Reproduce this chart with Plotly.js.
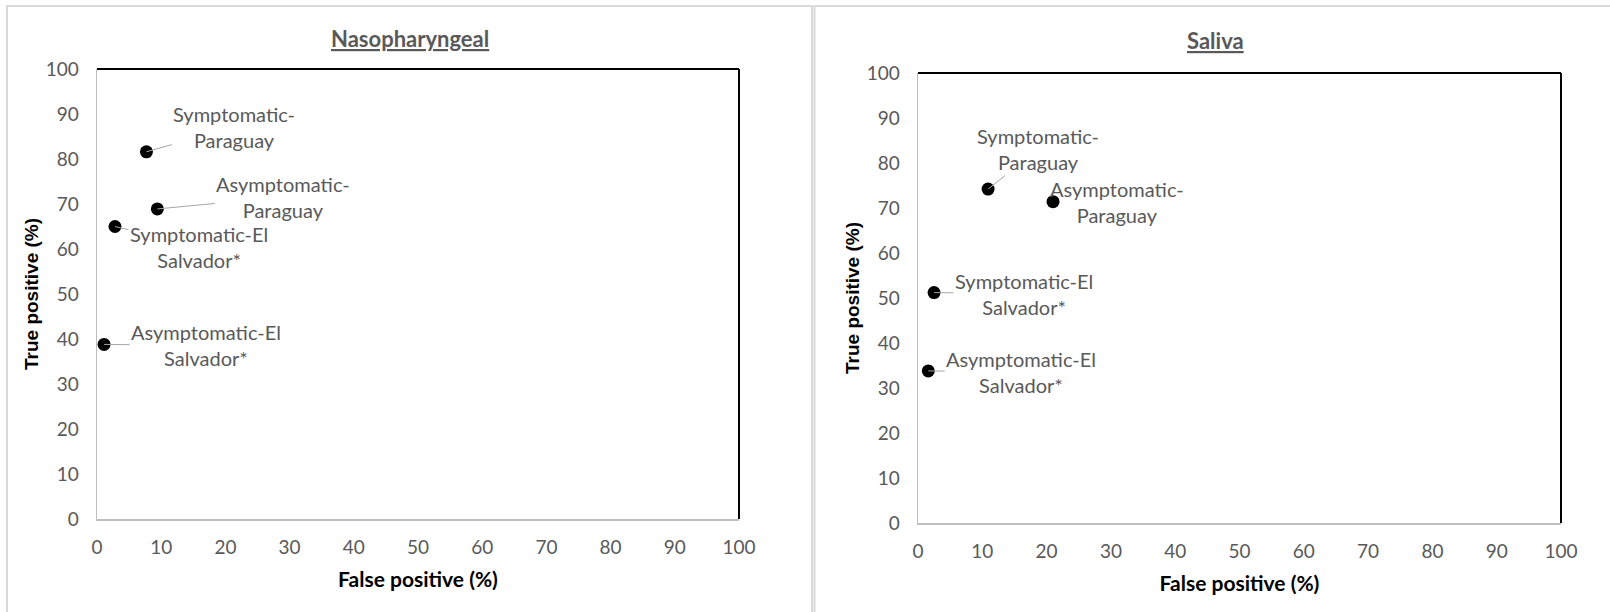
<!DOCTYPE html>
<html>
<head>
<meta charset="utf-8">
<script src="https://cdn.plot.ly/plotly-3.0.1.min.js"></script>
<style>
  html, body { margin: 0; padding: 0; background: #ffffff; }
  #chart { width: 1610px; height: 612px; }
</style>
</head>
<body>
<div id="chart"></div>
<script>
// ---- Data ----
const groups = ["Symptomatic-<br>Paraguay", "Asymptomatic-<br>Paraguay", "Symptomatic-El<br>Salvador*", "Asymptomatic-El<br>Salvador*"];

const nasoFalsePositive = [7.7, 9.4, 2.8, 1.1];
const nasoTruePositive  = [81.6, 68.9, 65.0, 38.8];

const salivaFalsePositive = [10.9, 21.0, 2.5, 1.6];
const salivaTruePositive  = [74.2, 71.4, 51.2, 33.8];

const panelTitles = ["Nasopharyngeal", "Saliva"];
const tickValues = [0, 10, 20, 30, 40, 50, 60, 70, 80, 90, 100];

// ---- Styles ----
const FONT = "Lato, 'Open Sans', sans-serif";
const GRAY_TEXT = "#595959";
const AXIS_GRAY = "#bfbfbf";
const LEADER_GRAY = "#a6a6a6";

// label offsets (pixels) relative to each point
const nasoLabelOffsets   = [[88, -25], [126, -12], [84, 20], [102, 1]];
const salivaLabelOffsets = [[50, -40], [64, 0], [90, 1], [93, 1]];

const traces = [
  { type: "scatter", mode: "markers", x: nasoFalsePositive, y: nasoTruePositive, xaxis: "x", yaxis: "y",
    marker: { color: "#000000", size: 13 }, cliponaxis: false, showlegend: false, hoverinfo: "skip" },
  { type: "scatter", mode: "markers", x: salivaFalsePositive, y: salivaTruePositive, xaxis: "x2", yaxis: "y2",
    marker: { color: "#000000", size: 13 }, cliponaxis: false, showlegend: false, hoverinfo: "skip" }
];

function makeAnnotations(xs, ys, offsets, xref, yref) {
  return groups.map((g, i) => ({
    x: xs[i], y: ys[i], xref: xref, yref: yref,
    text: g, showarrow: true, arrowhead: 0, arrowwidth: 1,
    arrowcolor: LEADER_GRAY, standoff: 0, startstandoff: 0,
    ax: offsets[i][0], ay: offsets[i][1], align: "center",
    font: { family: FONT, size: 20, color: GRAY_TEXT }
  }));
}

const annotations = [
  ...makeAnnotations(nasoFalsePositive, nasoTruePositive, nasoLabelOffsets, "x", "y"),
  ...makeAnnotations(salivaFalsePositive, salivaTruePositive, salivaLabelOffsets, "x2", "y2"),
  { text: "<u>" + panelTitles[0] + "</u>", xref: "paper", yref: "paper", x: 410 / 1610, y: 1 - 38 / 612,
    xanchor: "center", yanchor: "middle", showarrow: false, font: { family: FONT, size: 22, color: GRAY_TEXT, weight: "bold" } },
  { text: "<u>" + panelTitles[1] + "</u>", xref: "paper", yref: "paper", x: 1215 / 1610, y: 1 - 41 / 612,
    xanchor: "center", yanchor: "middle", showarrow: false, font: { family: FONT, size: 22, color: GRAY_TEXT, weight: "bold" } }
];

function xAxis(domain, anchor) {
  return { domain: domain, anchor: anchor, range: [0, 100], tickvals: tickValues,
    showline: true, linecolor: AXIS_GRAY, linewidth: 1.5, showgrid: false, zeroline: false, ticks: "", ticklabelstandoff: 11,
    tickfont: { family: FONT, size: 19, color: GRAY_TEXT },
    title: { text: "<b>False positive (%)</b>", standoff: 15, font: { family: FONT, size: 21, color: "#000000" } },
    fixedrange: true };
}
function yAxis(domain, anchor) {
  return { domain: domain, anchor: anchor, range: [0, 100], tickvals: tickValues,
    showline: true, linecolor: AXIS_GRAY, linewidth: 1.5, showgrid: false, zeroline: false, ticks: "", ticklabelstandoff: 13,
    tickfont: { family: FONT, size: 19, color: GRAY_TEXT },
    title: { text: "<b>True positive (%)</b>", standoff: 2, font: { family: "'Liberation Sans', Arial, sans-serif", size: 19, color: "#000000" } },
    fixedrange: true };
}

const shapes = [
  // panel borders
  { type: "rect", xref: "paper", yref: "paper", x0: 7 / 1610, x1: 812 / 1610, y0: -0.05, y1: 1 - 6 / 612, line: { color: "#d9d9d9", width: 2 }, layer: "below" },
  { type: "rect", xref: "paper", yref: "paper", x0: 814.5 / 1610, x1: 1.05, y0: -0.05, y1: 1 - 6 / 612, line: { color: "#d9d9d9", width: 2 }, layer: "below" },
  // top & right black frame lines
  { type: "line", xref: "x domain", yref: "y domain", x0: 0, x1: 1, y0: 1, y1: 1, line: { color: "#000", width: 2 } },
  { type: "line", xref: "x domain", yref: "y domain", x0: 1, x1: 1, y0: 0, y1: 1, line: { color: "#000", width: 2 } },
  { type: "line", xref: "x2 domain", yref: "y2 domain", x0: 0, x1: 1, y0: 1, y1: 1, line: { color: "#000", width: 2 } },
  { type: "line", xref: "x2 domain", yref: "y2 domain", x0: 1, x1: 1, y0: 0, y1: 1, line: { color: "#000", width: 2 } }
];

const layout = {
  width: 1610, height: 612, margin: { l: 0, r: 0, t: 0, b: 0 },
  paper_bgcolor: "#ffffff", plot_bgcolor: "#ffffff", showlegend: false,
  xaxis: xAxis([97 / 1610, 739 / 1610], "y"),
  yaxis: yAxis([1 - 519 / 612, 1 - 69 / 612], "x"),
  xaxis2: xAxis([918 / 1610, 1561 / 1610], "y2"),
  yaxis2: yAxis([1 - 523 / 612, 1 - 73 / 612], "x2"),
  annotations: annotations, shapes: shapes
};

Plotly.newPlot("chart", traces, layout, { displayModeBar: false, staticPlot: true });
</script>
</body>
</html>
